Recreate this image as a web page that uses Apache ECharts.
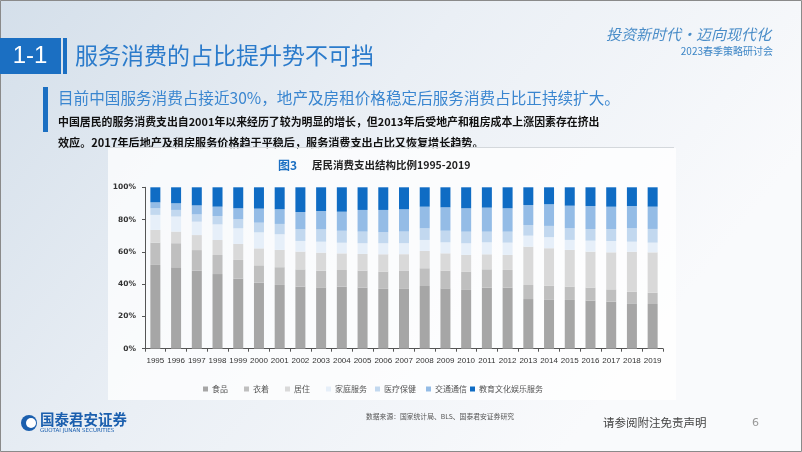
<!DOCTYPE html>
<html><head><meta charset="utf-8">
<script src="https://cdn.jsdelivr.net/npm/echarts@6/dist/echarts.min.js"></script>
<style>html,body{margin:0;padding:0;}#c{width:802px;height:452px;}</style>
</head><body><div id="c"></div>
<script>
const years = ['1995','1996','1997','1998','1999','2000','2001','2002','2003','2004','2005','2006','2007','2008','2009','2010','2011','2012','2013','2014','2015','2016','2017','2018','2019'];
const seriesNames = ['食品','衣着','居住','家庭服务','医疗保健','交通通信','教育文化娱乐服务'];
const food      = [51.9,50.4,48.3,46.3,43.4,40.9,39.5,38.4,38.0,38.4,37.8,37.0,37.0,38.8,37.4,36.4,37.8,37.8,30.8,30.2,30.2,29.8,29.1,28.1,27.7];
const clothing  = [13.8,14.9,12.8,11.8,11.6,10.7,11.0,10.7,10.3,10.3,10.5,10.7,11.4,11.0,11.0,11.4,11.4,11.0,8.7,8.7,8.3,8.1,7.6,7.2,7.0];
const residence = [7.9,7.2,9.3,9.3,9.9,10.5,10.7,11.0,11.2,10.3,10.3,10.7,10.1,10.7,10.7,10.3,9.3,9.3,23.8,23.3,22.7,22.3,22.9,24.8,25.0];
const household = [9.3,9.3,8.3,9.7,9.7,9.9,9.7,6.6,6.8,6.6,6.6,6.8,6.8,6.8,6.8,7.2,7.4,7.6,6.8,6.8,6.2,6.8,7.0,6.2,6.0];
const medical   = [4.1,4.1,4.5,5.2,5.6,6.0,6.4,7.2,7.6,7.4,7.2,6.8,7.2,7.2,7.2,7.2,6.6,6.8,6.6,7.0,7.2,7.2,7.4,8.3,8.5];
const transport = [3.7,4.1,5.6,5.8,6.8,8.7,9.1,10.7,11.4,11.8,13.4,13.8,13.8,13.4,14.5,14.5,14.9,14.5,12.4,13.4,14.0,14.3,13.8,13.8,13.8];
const education = [9.3,9.9,11.2,12.0,13.0,13.2,13.6,15.3,14.7,15.1,14.0,14.0,13.6,12.0,12.4,13.0,12.6,13.0,11.0,10.5,11.4,11.6,12.0,11.6,12.0];
const yTicks = [0,20,40,60,80,100];

const raw = [food, clothing, residence, household, medical, transport, education];
const colors = ['#a6a6a6','#bfbfbf','#d9d9d9','#e6eff9','#c2d8ef','#94bce6','#0f6cc4'];
const totals = years.map((_, i) => raw.reduce((s, a) => s + a[i], 0));
const norm = raw.map(a => a.map((v, i) => +(v / totals[i] * 100).toFixed(3)));

const legendLeft = [198, 239, 280, 321, 370, 421, 465];

const chart = echarts.init(document.getElementById('c'), null, {renderer: 'canvas'});
const cjk = '"Noto Sans CJK SC", "Noto Sans", sans-serif';

const option = {
  animation: false,
  backgroundColor: {
    type: 'linear', x: 0, y: 0, x2: 0.7, y2: 1,
    colorStops: [{offset: 0, color: '#d4dfea'}, {offset: 0.5, color: '#eaeff5'}, {offset: 1, color: '#f9fafc'}]
  },
  graphic: [
    {type: 'rect', z: -10, shape: {x: 108, y: 148, width: 568, height: 252}, style: {fill: 'rgba(255,255,255,0.75)'}},
    {type: 'rect', shape: {x: 0.5, y: 0.5, width: 801, height: 451}, style: {fill: 'none', stroke: '#8a8a8a', lineWidth: 1}},
    {type: 'rect', shape: {x: 0, y: 38, width: 61, height: 36}, style: {fill: '#1b6fc2'}},
    {type: 'text', style: {text: '1-1', x: 30, y: 56, textAlign: 'center', textVerticalAlign: 'middle', fill: '#ffffff', font: '24px "Liberation Sans", Arial, sans-serif'}},
    {type: 'rect', shape: {x: 63, y: 38, width: 4, height: 36}, style: {fill: '#1b6fc2'}},
    {type: 'text', style: {text: '服务消费的占比提升势不可挡', x: 75, y: 55, textVerticalAlign: 'middle', fill: '#2b7bcb', font: '23px ' + cjk}},
    {type: 'text', style: {text: '投资新时代·迈向现代化', x: 606, y: 34, textVerticalAlign: 'middle', fill: '#4a8dc8', font: 'italic 15px ' + cjk}},
    {type: 'text', style: {text: '2023春季策略研讨会', x: 773, y: 51, textAlign: 'right', textVerticalAlign: 'middle', fill: '#3d86c6', font: '10px ' + cjk}},
    {type: 'rect', shape: {x: 43, y: 87, width: 5, height: 45}, style: {fill: '#1b6fc2'}},
    {type: 'text', style: {text: '目前中国服务消费占接近30%，地产及房租价格稳定后服务消费占比正持续扩大。', x: 58, y: 98, textVerticalAlign: 'middle', fill: '#3a86d0', font: '15.6px ' + cjk}},
    {type: 'text', style: {text: '中国居民的服务消费支出自2001年以来经历了较为明显的增长，但2013年后受地产和租房成本上涨因素存在挤出', x: 58, y: 122, textVerticalAlign: 'middle', fill: '#111111', font: 'bold 10.9px ' + cjk}},
    {type: 'text', style: {text: '效应。2017年后地产及租房服务价格趋于平稳后，服务消费支出占比又恢复增长趋势。', x: 58, y: 143, textVerticalAlign: 'middle', fill: '#111111', font: 'bold 11.1px ' + cjk}},
    {type: 'line', shape: {x1: 110, y1: 147.5, x2: 674, y2: 147.5}, style: {stroke: '#d4d8dc', lineWidth: 1}},
    {type: 'text', style: {text: '图3', x: 278, y: 165, textVerticalAlign: 'middle', fill: '#1b6fc2', font: 'bold 12px ' + cjk}},
    {type: 'text', style: {text: '居民消费支出结构比例1995-2019', x: 312, y: 165, textVerticalAlign: 'middle', fill: '#222222', font: 'bold 10.5px ' + cjk}},
    {type: 'circle', shape: {cx: 29, cy: 423, r: 8}, style: {fill: '#1b5fae'}},
    {type: 'circle', shape: {cx: 31, cy: 423, r: 5}, style: {fill: '#ffffff'}},
    {type: 'text', style: {text: '国泰君安证券', x: 40, y: 419, textVerticalAlign: 'middle', fill: '#1b5fae', font: 'bold 14.5px ' + cjk}},
    {type: 'text', style: {text: 'GUOTAI JUNAN SECURITIES', x: 40, y: 431, textVerticalAlign: 'middle', fill: '#1b5fae', font: '5.5px "DejaVu Sans", sans-serif'}},
    {type: 'text', style: {text: '数据来源：国家统计局、BLS、国泰君安证券研究', x: 366, y: 416, textVerticalAlign: 'middle', fill: '#555555', font: '6.8px ' + cjk}},
    {type: 'text', style: {text: '请参阅附注免责声明', x: 603, y: 423, textVerticalAlign: 'middle', fill: '#444444', font: '11.5px ' + cjk}},
    {type: 'text', style: {text: '6', x: 752, y: 423, textVerticalAlign: 'middle', fill: '#999999', font: '11px "DejaVu Sans", sans-serif'}}
  ],
  legend: seriesNames.map((n, i) => ({
    data: [n], left: legendLeft[i], top: 380, icon: 'rect', itemWidth: 5, itemHeight: 5, itemGap: 0,
    textStyle: {fontSize: 8, color: '#555', fontFamily: cjk, padding: [0, 0, 0, -1]}, selectedMode: false
  })),
  grid: {left: 145, right: 139, top: 187.3, bottom: 103.3, containLabel: false},
  xAxis: {
    type: 'category', data: years,
    axisLine: {lineStyle: {color: '#555', width: 1}},
    axisTick: {show: true, alignWithLabel: false, length: 3, lineStyle: {color: '#555'}},
    axisLabel: {fontSize: 8, color: '#333', margin: 8, interval: 0, fontFamily: '"Liberation Sans", Arial, sans-serif'}
  },
  yAxis: {
    type: 'value', min: 0, max: 100, interval: 20,
    axisLine: {show: true, lineStyle: {color: '#555'}},
    axisTick: {show: true, length: 3, lineStyle: {color: '#555'}},
    splitLine: {show: false},
    axisLabel: {formatter: v => yTicks.includes(v) ? v + '%' : '', fontSize: 7.5, fontWeight: 'bold', color: '#333', margin: 9, fontFamily: '"DejaVu Sans", sans-serif'}
  },
  series: seriesNames.map((n, i) => ({
    name: n, type: 'bar', stack: 'total', barWidth: 10, data: norm[i],
    itemStyle: {color: colors[i]}
  }))
};
chart.setOption(option);
</script></body></html>
